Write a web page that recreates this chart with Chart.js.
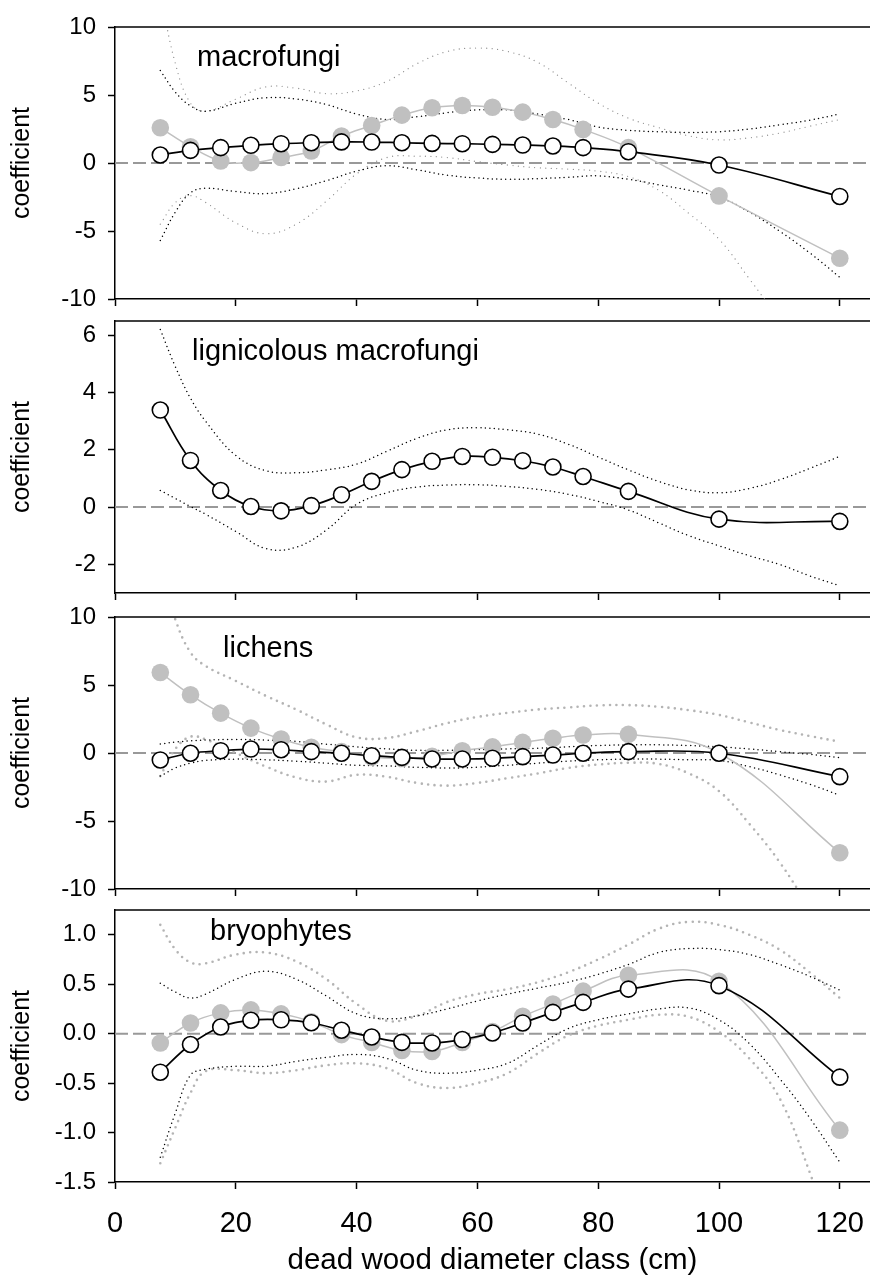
<!DOCTYPE html>
<html>
<head>
<meta charset="utf-8">
<script src="https://cdn.jsdelivr.net/npm/chart.js@4.4.1/dist/chart.umd.min.js"></script>
<style>
  html, body { margin: 0; padding: 0; background: #fff; }
  body { width: 870px; height: 1276px; position: relative; overflow: hidden; }
  canvas { position: absolute; left: 0; }
</style>
</head>
<body>
<canvas id="p1" width="870" height="326" style="top:0px"></canvas>
<canvas id="p2" width="870" height="326" style="top:294px"></canvas>
<canvas id="p3" width="870" height="326" style="top:590px"></canvas>
<canvas id="p4" width="870" height="393" style="top:883px"></canvas>
<script>
// diameter classes (cm) of the estimates and x positions of the confidence curves
const classX = [7.5, 12.5, 17.5, 22.5, 27.5, 32.5, 37.5, 42.5, 47.5, 52.5, 57.5, 62.5, 67.5, 72.5, 77.5, 85, 100, 120];
const ciX = [7.5, 10, 12.5, 15, 20, 25, 30, 35, 40, 45, 50, 55, 60, 65, 70, 75, 80, 85, 90, 95, 100, 105, 110, 115, 120];
const xTicks = [0, 20, 40, 60, 80, 100, 120];
const X_MIN = 0, X_MAX = 125;

// macrofungi
const mfBlack = [0.59, 0.93, 1.13, 1.3, 1.42, 1.49, 1.55, 1.54, 1.49, 1.44, 1.42, 1.37, 1.32, 1.25, 1.13, 0.83, -0.15, -2.46];
const mfGray = [2.59, 1.2, 0.15, 0.03, 0.4, 0.88, 1.98, 2.76, 3.52, 4.06, 4.23, 4.1, 3.74, 3.2, 2.47, 1.13, -2.42, -7.0];
const mfBlackHi = [6.8, 5.2, 4.2, 3.8, 4.4, 4.8, 4.7, 4.3, 3.6, 3.2, 3.4, 3.7, 3.9, 3.9, 3.6, 3.2, 2.65, 2.4, 2.3, 2.25, 2.3, 2.5, 2.8, 3.15, 3.6];
const mfBlackLo = [-5.7, -3.6, -2.2, -1.85, -2.1, -2.25, -1.9, -1.3, -0.6, -0.2, -0.5, -0.9, -1.1, -1.2, -1.15, -1.05, -0.95, -1.2, -1.6, -2.0, -2.5, -3.6, -5.0, -6.6, -8.4];
const mfGrayHi = [12.5, 7.3, 4.4, 3.8, 4.7, 5.6, 5.5, 5.1, 5.3, 6.0, 7.3, 8.2, 8.45, 8.2, 7.4, 5.9, 4.4, 3.3, 2.6, 2.0, 1.7, 1.85, 2.2, 2.7, 3.2];
const mfGrayLo = [-4.5, -2.9, -2.4, -2.9, -4.4, -5.2, -4.5, -2.8, -0.8, 0.4, 0.5, 0.4, 0.1, -0.15, -0.35, -0.45, -0.6, -1.0, -2.0, -3.7, -5.6, -8.5, -11.5, -14.5, -17.5];

// lignicolous macrofungi
const lgBlack = [3.39, 1.63, 0.58, 0.02, -0.13, 0.05, 0.43, 0.9, 1.31, 1.6, 1.77, 1.74, 1.62, 1.4, 1.07, 0.55, -0.42, -0.5];
const lgHi = [6.2, 4.9, 3.8, 3.0, 1.8, 1.27, 1.2, 1.3, 1.5, 1.95, 2.4, 2.7, 2.77, 2.7, 2.55, 2.2, 1.75, 1.3, 0.9, 0.6, 0.5, 0.65, 0.95, 1.35, 1.77];
const lgLo = [0.58, 0.3, 0.02, -0.25, -0.85, -1.45, -1.4, -0.8, 0.1, 0.5, 0.7, 0.77, 0.78, 0.72, 0.62, 0.45, 0.2, -0.1, -0.55, -1.0, -1.35, -1.7, -2.0, -2.4, -2.75];

// lichens
const lcBlack = [-0.51, -0.02, 0.17, 0.29, 0.24, 0.1, -0.02, -0.2, -0.32, -0.44, -0.44, -0.39, -0.27, -0.15, -0.02, 0.1, -0.02, -1.74];
const lcGray = [5.92, 4.28, 2.93, 1.83, 1.03, 0.42, 0.1, -0.3, -0.4, -0.25, 0.17, 0.45, 0.78, 1.08, 1.32, 1.37, 0.0, -7.34];
const lcBlackHi = [0.66, 0.8, 0.9, 0.95, 1.0, 0.95, 0.85, 0.65, 0.45, 0.3, 0.2, 0.2, 0.25, 0.3, 0.35, 0.45, 0.55, 0.6, 0.6, 0.55, 0.45, 0.3, 0.1, -0.1, -0.35];
const lcBlackLo = [-1.7, -1.1, -0.75, -0.55, -0.45, -0.5, -0.6, -0.75, -0.9, -0.95, -1.05, -1.1, -1.05, -0.9, -0.75, -0.6, -0.5, -0.45, -0.45, -0.5, -0.55, -1.0, -1.6, -2.3, -3.1];
const lcGrayHi = [13.5, 9.8, 7.4, 6.4, 5.3, 4.2, 3.2, 2.1, 1.15, 1.1, 1.6, 2.2, 2.65, 2.95, 3.2, 3.35, 3.5, 3.52, 3.4, 3.15, 2.8, 2.25, 1.7, 1.25, 0.83];
const lcGrayLo = [-1.7, 0.3, 1.2, 1.0, 0.0, -1.0, -1.8, -2.1, -1.6, -1.75, -2.2, -2.4, -2.2, -1.85, -1.5, -1.1, -0.85, -0.72, -0.8, -1.5, -2.8, -5.2, -8.0, -11.5, -15.5];

// bryophytes
const brBlack = [-0.39, -0.11, 0.067, 0.135, 0.14, 0.11, 0.034, -0.034, -0.088, -0.094, -0.06, 0.007, 0.108, 0.215, 0.316, 0.45, 0.485, -0.44];
const brGray = [-0.094, 0.108, 0.21, 0.24, 0.2, 0.12, -0.01, -0.09, -0.17, -0.18, -0.09, 0.02, 0.175, 0.3, 0.43, 0.59, 0.53, -0.976];
const brBlackHi = [0.51, 0.42, 0.36, 0.4, 0.55, 0.63, 0.55, 0.38, 0.2, 0.15, 0.18, 0.25, 0.33, 0.4, 0.46, 0.52, 0.6, 0.7, 0.82, 0.86, 0.85, 0.8, 0.7, 0.58, 0.44];
const brBlackLo = [-1.25, -0.8, -0.42, -0.36, -0.33, -0.33, -0.28, -0.24, -0.21, -0.25, -0.37, -0.4, -0.37, -0.3, -0.12, 0.05, 0.14, 0.2, 0.25, 0.26, 0.14, -0.1, -0.45, -0.85, -1.3];
const brGrayHi = [1.1, 0.85, 0.72, 0.71, 0.8, 0.82, 0.73, 0.55, 0.3, 0.13, 0.18, 0.32, 0.4, 0.45, 0.52, 0.62, 0.75, 0.9, 1.06, 1.13, 1.1, 1.0, 0.85, 0.62, 0.36];
const brGrayLo = [-1.31, -0.95, -0.6, -0.38, -0.37, -0.4, -0.37, -0.32, -0.3, -0.35, -0.5, -0.55, -0.5, -0.4, -0.2, -0.02, 0.08, 0.14, 0.19, 0.17, 0.02, -0.25, -0.65, -1.4, -2.3];

const yTicksWide = [-10, -5, 0, 5, 10];
const yTicksLig = [-2, 0, 2, 4, 6];
const yTicksBry = [-1.5, -1.0, -0.5, 0.0, 0.5, 1.0];

const FONT = '"Liberation Sans", Arial, sans-serif';
Chart.defaults.font.family = FONT;
Chart.defaults.color = '#000';

const pts = (xs, ys) => xs.map((x, i) => ({ x: x, y: ys[i] }));

let estLine = (ys, gray) => ({
  data: pts(classX, ys),
  borderColor: gray ? '#c0c0c0' : '#000',
  borderWidth: gray ? 1.5 : 1.7,
  pointRadius: gray ? 8.8 : 8,
  pointBackgroundColor: gray ? '#c0c0c0' : '#fff',
  pointBorderColor: gray ? '#c0c0c0' : '#000',
  pointBorderWidth: gray ? 0 : 1.6,
  tension: 0.4,
  order: gray ? 1 : 0
});

let ciLine = (ys, gray, big) => ({
  data: pts(ciX, ys),
  borderColor: gray ? (big ? '#b4b4b4' : '#909090') : '#000',
  borderWidth: gray ? (big ? 2.6 : 1.3) : 1.5,
  borderDash: gray ? (big ? [0, 6.5] : [0, 5.5]) : [0, 4.5],
  borderCapStyle: 'round',
  pointRadius: 0,
  tension: 0.4,
  order: gray ? 3 : 2
});

let zeroLine = () => ({
  data: [{ x: X_MIN, y: 0 }, { x: X_MAX, y: 0 }],
  borderColor: '#999',
  borderWidth: 2,
  borderDash: [13, 5],
  pointRadius: 0,
  order: 5
});

// panel name + top frame line
const panelDecor = {
  id: 'panelDecor',
  afterDraw(chart, args, opts) {
    const { ctx, chartArea } = chart;
    ctx.save();
    ctx.strokeStyle = '#000';
    ctx.lineWidth = 1.5;
    ctx.beginPath();
    ctx.moveTo(chartArea.left, chartArea.top);
    ctx.lineTo(chartArea.right, chartArea.top);
    ctx.stroke();
    ctx.font = '29px ' + FONT;
    ctx.fillStyle = '#000';
    ctx.textBaseline = 'alphabetic';
    ctx.fillText(opts.text, opts.left, chartArea.top + opts.drop);
    ctx.restore();
  }
};

// every canvas: 27px above the plot (room for the top tick label), plot 272px high
let makePanel = (id, p) => {
  const axisTicks = { drawOnChartArea: false, tickLength: 7, tickColor: '#000', tickWidth: 1.5 };
  new Chart(document.getElementById(id), {
    type: 'line',
    data: { datasets: p.datasets },
    plugins: [panelDecor],
    options: {
      responsive: false,
      animation: false,
      layout: { autoPadding: false, padding: { top: 27, bottom: p.bottom ? 0 : 19, left: 0, right: 0 } },
      plugins: {
        legend: { display: false },
        tooltip: { enabled: false },
        panelDecor: { text: p.name, left: p.nameLeft, drop: p.nameDrop }
      },
      scales: {
        x: {
          type: 'linear', min: X_MIN, max: X_MAX,
          afterBuildTicks: s => { s.ticks = xTicks.map(v => ({ value: v })); },
          afterFit: s => {
            s.height = p.bottom ? 94 : 8;
            s.paddingLeft = 0;
            s.paddingRight = 0;
          },
          grid: axisTicks,
          border: { color: '#000', width: 1.5 },
          ticks: { display: !!p.bottom, font: { size: 29 }, padding: 18, maxRotation: 0, autoSkip: false },
          title: { display: !!p.bottom, text: 'dead wood diameter class (cm)', font: { size: 29.5, lineHeight: 1 }, padding: 0 }
        },
        y: {
          type: 'linear', min: p.yMin, max: p.yMax,
          afterBuildTicks: s => { s.ticks = p.yTicks.map(v => ({ value: v })); },
          afterFit: s => { s.width = 115; },
          grid: axisTicks,
          border: { color: '#000', width: 1.5 },
          ticks: { font: { size: 24 }, padding: 12, callback: v => Number(v).toFixed(p.dec) },
          title: { display: true, text: 'coefficient', font: { size: 25 }, padding: { top: 7, bottom: 0 } }
        }
      }
    }
  });
};

makePanel('p1', {
  name: 'macrofungi', nameLeft: 197, nameDrop: 39,
  yMin: -10, yMax: 10, yTicks: yTicksWide, dec: 0,
  datasets: [
    estLine(mfBlack, false), estLine(mfGray, true),
    ciLine(mfBlackHi, false), ciLine(mfBlackLo, false),
    ciLine(mfGrayHi, true, false), ciLine(mfGrayLo, true, false),
    zeroLine()
  ]
});

makePanel('p2', {
  name: 'lignicolous macrofungi', nameLeft: 192, nameDrop: 39,
  yMin: -3, yMax: 6.5, yTicks: yTicksLig, dec: 0,
  datasets: [
    estLine(lgBlack, false),
    ciLine(lgHi, false), ciLine(lgLo, false),
    zeroLine()
  ]
});

makePanel('p3', {
  name: 'lichens', nameLeft: 223, nameDrop: 40,
  yMin: -10, yMax: 10, yTicks: yTicksWide, dec: 0,
  datasets: [
    estLine(lcBlack, false), estLine(lcGray, true),
    ciLine(lcBlackHi, false), ciLine(lcBlackLo, false),
    ciLine(lcGrayHi, true, true), ciLine(lcGrayLo, true, true),
    zeroLine()
  ]
});

makePanel('p4', {
  name: 'bryophytes', nameLeft: 210, nameDrop: 30, bottom: true,
  yMin: -1.5, yMax: 1.25, yTicks: yTicksBry, dec: 1,
  datasets: [
    estLine(brBlack, false), estLine(brGray, true),
    ciLine(brBlackHi, false), ciLine(brBlackLo, false),
    ciLine(brGrayHi, true, true), ciLine(brGrayLo, true, true),
    zeroLine()
  ]
});
</script>
</body>
</html>
